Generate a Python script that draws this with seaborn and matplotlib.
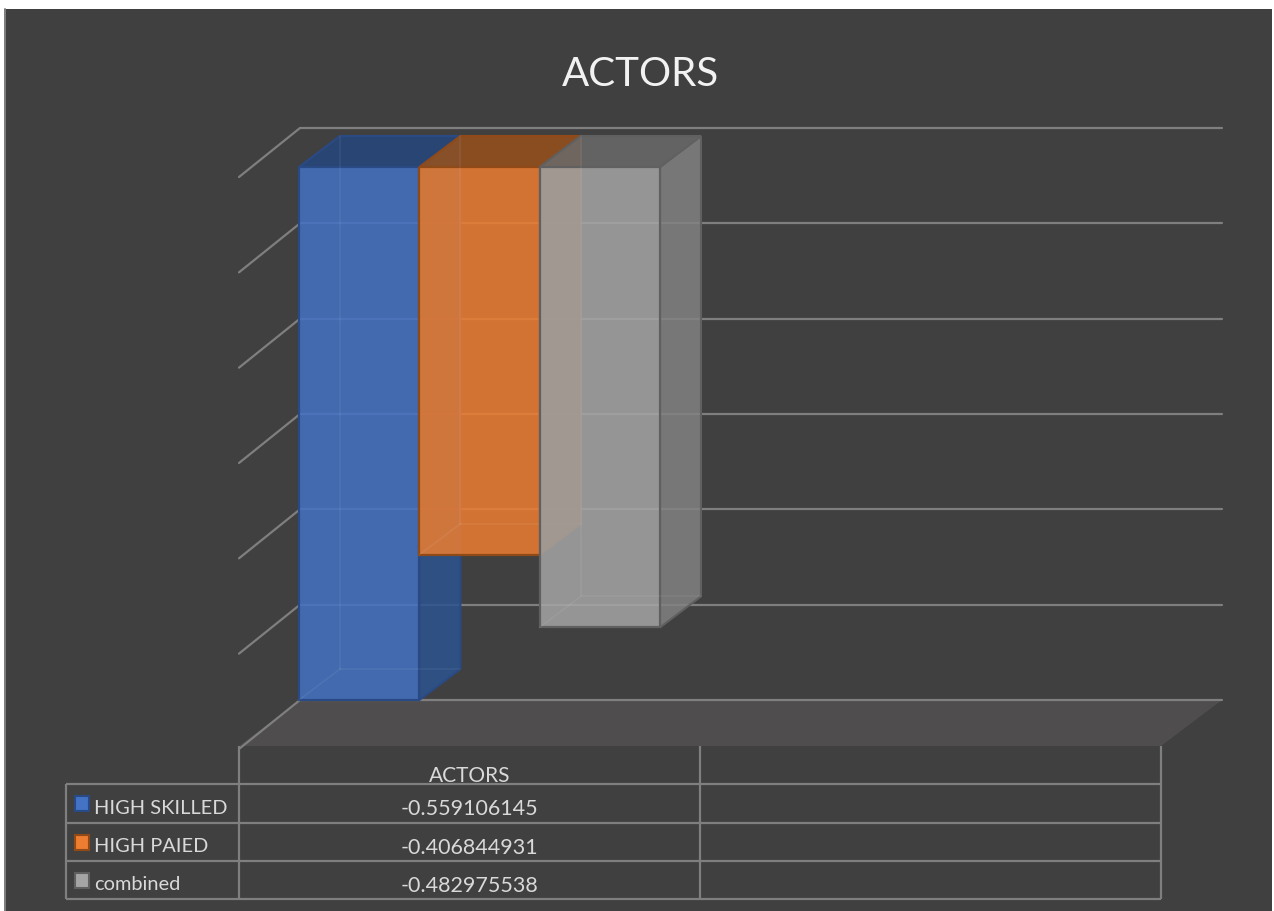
import matplotlib
matplotlib.use('Agg')
import matplotlib.pyplot as plt
import pandas as pd
import seaborn as sns
from matplotlib.colors import to_rgba
from matplotlib.lines import Line2D
from matplotlib.patches import Polygon, Rectangle
from matplotlib.transforms import IdentityTransform

W, H = 1274, 911

title = 'ACTORS'
groups = ['ACTORS', ' ']
series = ['HIGH SKILLED', 'HIGH PAIED', 'combined']
values = [-0.559106145, -0.406844931, -0.482975538]
grid_values = [0.0, -0.1, -0.2, -0.3, -0.4, -0.5, -0.6]

colors = ['#4472C4', '#ED7D31', '#A5A5A5']
edges = ['#2A4A85', '#8F4A18', '#606060']
sides = ['#2B5390', '#9C5520', '#828282']
tops = ['#26477E', '#98501A', '#6A6A6A']

BG = '#404040'
GRID = '#7F7F7F'
TEXT = '#D9D9D9'
FLOOR = '#4F4D4D'


def fx(x):
    return x / W


def fy(y):
    return 1 - y / H


sns.set_theme(style='white')
plt.rcParams['font.family'] = ['Lato', 'DejaVu Sans']

fig = plt.figure(figsize=(W / 100, H / 100), dpi=100, facecolor='white')
fig.add_artist(Rectangle((fx(4), 0), fx(1272 - 4), fy(9), transform=fig.transFigure,
                         facecolor=BG, edgecolor='none', zorder=-5))
fig.add_artist(Line2D([fx(5)] * 2, [0, fy(9)], color='#808080', lw=1.4, zorder=-4))

# axes = plane of the bars, 0 sits on the top of the bars. bars are 10px right of the table cols
bar_shift = 10
ax = fig.add_axes([fx(239 + bar_shift), fy(746), fx(1161 - 239), fy(167) - fy(746)])
ax.patch.set_alpha(0)

df = pd.DataFrame({'group': [groups[0]] * 3, 'series': series, 'value': values})
sns.barplot(data=df, x='group', y='value', hue='series', order=groups, hue_order=series,
            palette=colors, saturation=1, width=0.783, legend=False, ax=ax)
ax.set_xlim(-0.5, 1.5)
ax.set_ylim(-(746 - 167) / 953.3, 0)
ax.axis('off')


def px(x, y):
    # data to display pixels
    return ax.transData.transform((x, y))


def line(xs, ys, color=GRID, lw=1.6, z=1):
    fig.add_artist(Line2D([fx(x) for x in xs], [fy(y) for y in ys], color=color, lw=lw,
                          zorder=z, solid_capstyle='butt'))


def display_poly(points, z, **kw):
    ax.add_patch(Polygon(points, closed=True, transform=IdentityTransform(), clip_on=False,
                         zorder=z, **kw))


# floor and walls, offsets in display pixels
wall_dx, wall_dy = 61, 39
left_dy = 10
floor_dx, floor_dy = 61, 46

x_left = ax.get_xlim()[0]
x_right = ax.get_xlim()[1]
y_floor = ax.get_ylim()[0]
a = px(x_left, y_floor) - (bar_shift, 0)
b = px(x_right, y_floor) - (bar_shift, 0)
display_poly([a, b, (b[0] + floor_dx, b[1] + floor_dy), (a[0] + floor_dx, a[1] + floor_dy)],
             0.5, facecolor=FLOOR, edgecolor='none')

for v in grid_values:
    p = px(x_left, v) - (bar_shift, 0)
    q = px(x_right, v) - (bar_shift, 0)
    back_y = p[1] + wall_dy
    ax.add_line(Line2D([p[0] + wall_dx, q[0] + wall_dx], [back_y, back_y], color=GRID, lw=1.6,
                       transform=IdentityTransform(), clip_on=False, zorder=0.6))
    ax.add_line(Line2D([p[0], p[0] + wall_dx], [p[1] - left_dy, back_y], color=GRID, lw=1.6,
                       transform=IdentityTransform(), clip_on=False, zorder=0.6))

# 3d depth of the bars
depth_dx, depth_dy = 41, 31
bars = [b_ for b_ in ax.patches if isinstance(b_, Rectangle) and b_.get_height() != 0]
for i, bar in enumerate(bars):
    box = bar.get_bbox()
    x0, y0 = px(box.x0, min(box.y0, box.y1))
    x1, y1 = px(box.x1, max(box.y0, box.y1))
    z = 2 + i * 2
    # faint back edges seen through the bar
    inner = dict(color='white', alpha=0.06, lw=1.2, transform=IdentityTransform(),
                 clip_on=False, zorder=z + 1.2)
    ax.add_line(Line2D([x0 + depth_dx] * 2, [y0 + depth_dy, y1 + depth_dy], **inner))
    ax.add_line(Line2D([x0 + depth_dx, x1 + depth_dx], [y0 + depth_dy] * 2, **inner))
    ax.add_line(Line2D([x0, x0 + depth_dx], [y0, y0 + depth_dy], **inner))
    display_poly([(x1, y0), (x1, y1), (x1 + depth_dx, y1 + depth_dy), (x1 + depth_dx, y0 + depth_dy)],
                 z, facecolor=to_rgba(sides[i], 0.85), edgecolor=edges[i], lw=1.5)
    display_poly([(x0, y1), (x1, y1), (x1 + depth_dx, y1 + depth_dy), (x0 + depth_dx, y1 + depth_dy)],
                 z, facecolor=to_rgba(tops[i], 0.85), edgecolor=edges[i], lw=1.5)
    bar.set_zorder(z + 1)
    bar.set_facecolor(to_rgba(colors[i], 0.85))
    bar.set_edgecolor(edges[i])
    bar.set_linewidth(1.6)

# data table
col_x = [66, 239, 700, 1161]
row_y = [784, 823, 861, 899]
for y in row_y:
    line([col_x[0], col_x[-1]], [y, y])
line([col_x[0]] * 2, [row_y[0], row_y[-1]])
for x in col_x[1:]:
    line([x, x], [746, row_y[-1]])

fig.text(fx(640), fy(75), title, color='#F2F2F2', fontsize=29, ha='center', va='center')
fig.text(fx(469.5), fy(776), groups[0], color=TEXT, fontsize=15, ha='center', va='center')

for i, name in enumerate(series):
    top = row_y[i] + 12
    fig.add_artist(Rectangle((fx(75), fy(top + 15)), fx(14), fy(top) - fy(top + 15),
                             transform=fig.transFigure, facecolor=colors[i],
                             edgecolor=edges[i], lw=1.5))
    fig.text(fx(94), fy(row_y[i] + 24), name, color=TEXT, fontsize=14.4, ha='left', va='center')
    fig.text(fx(469.5), fy(row_y[i] + 25), f'{values[i]:.9f}', color=TEXT, fontsize=15.5,
             ha='center', va='center')

fig.savefig('out.png', dpi=100, facecolor=fig.get_facecolor())
